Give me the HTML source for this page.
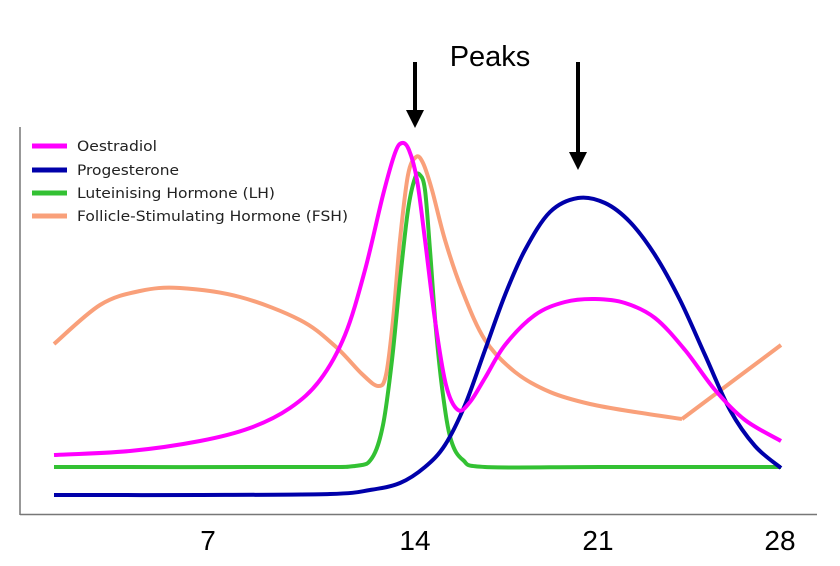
<!DOCTYPE html>
<html><head><meta charset="utf-8"><style>
html,body{margin:0;padding:0;background:#fff;}
svg{display:block;}
text{font-family:"Liberation Sans","DejaVu Sans",sans-serif;}
text.lg{font-family:"DejaVu Sans",sans-serif;}
</style></head><body>
<svg id="s" width="840" height="566" viewBox="0 0 840 566" xmlns="http://www.w3.org/2000/svg">
<line x1="20" y1="127" x2="20" y2="515" stroke="#777" stroke-width="1.5"/>
<line x1="20" y1="514.5" x2="817" y2="514.5" stroke="#777" stroke-width="1.5"/>
<g fill="none" stroke-width="4" stroke-linecap="butt" stroke-linejoin="round">
<path id="fsh" stroke="#f9a07a"/>
<path id="fsh2" stroke="#f9a07a"/>
<path id="lh" stroke="#33c133"/>
<path id="pro" stroke="#0000aa"/>
<path id="oes" stroke="#ff00ff"/>
</g>
<g stroke-width="5">
<line x1="32" y1="146" x2="67" y2="146" stroke="#ff00ff"/>
<line x1="32" y1="170" x2="67" y2="170" stroke="#0000aa"/>
<line x1="32" y1="193" x2="67" y2="193" stroke="#33c133"/>
<line x1="32" y1="216" x2="67" y2="216" stroke="#f9a07a"/>
</g>
<g font-size="14" fill="#222">
<text class="lg" x="77" y="151" textLength="80" lengthAdjust="spacingAndGlyphs">Oestradiol</text>
<text class="lg" x="77" y="175" textLength="102" lengthAdjust="spacingAndGlyphs">Progesterone</text>
<text class="lg" x="77" y="198" textLength="198" lengthAdjust="spacingAndGlyphs">Luteinising Hormone (LH)</text>
<text class="lg" x="77" y="221" textLength="271" lengthAdjust="spacingAndGlyphs">Follicle-Stimulating Hormone (FSH)</text>
</g>
<line x1="415" y1="62" x2="415" y2="112" stroke="#000" stroke-width="4"/>
<polygon points="406,110 424,110 415,128" fill="#000"/>
<line x1="578" y1="62" x2="578" y2="154" stroke="#000" stroke-width="4"/>
<polygon points="569,152 587,152 578,170" fill="#000"/>
<text x="490" y="66" font-size="29" text-anchor="middle" fill="#000">Peaks</text>
<g font-size="28" fill="#000" text-anchor="middle">
<text x="208" y="550">7</text>
<text x="415" y="550">14</text>
<text x="598" y="550">21</text>
<text x="780" y="550">28</text>
</g>
</svg>
<script>
function cr(p){let d="M"+p[0][0]+","+p[0][1];for(let i=0;i<p.length-1;i++){const a=p[i-1]||p[i],b=p[i],c=p[i+1],e=p[i+2]||c;
d+=" C"+(b[0]+(c[0]-a[0])/6)+","+(b[1]+(c[1]-a[1])/6)+" "+(c[0]-(e[0]-b[0])/6)+","+(c[1]-(e[1]-b[1])/6)+" "+c[0]+","+c[1];}return d;}
const D={
oes:[[54,455],[130,451],[200,441],[250,428],[290,408],[320,380],[345,335],[365,270],[383,195],[395,153],[402,143],[409,150],[417,180],[425,240],[435,320],[446,385],[458,410],[470,402],[485,378],[505,345],[535,315],[565,302],[595,299],[625,303],[655,318],[685,350],[715,390],[745,420],[781,441]],
pro:[[54,495],[200,495],[330,494],[370,490],[400,483],[425,467],[445,445],[465,405],[485,350],[505,295],[525,250],[550,212],[578,198],[605,203],[630,222],[655,255],[680,300],[705,355],[730,410],[755,446],[781,468]],
lh:[[54,467],[300,467],[355,466],[372,458],[383,425],[392,360],[400,280],[408,210],[415,178],[420,175],[425,190],[430,250],[436,330],[443,395],[451,440],[463,460],[485,467],[600,467],[781,467]],
fsh:[[54,344],[100,305],[140,291],[180,288],[240,297],[300,320],[335,346],[362,374],[378,386],[386,375],[393,320],[400,240],[408,175],[416,157],[423,163],[432,190],[445,240],[462,290],[485,340],[515,372],[550,392],[590,404],[635,412],[682,419]],
fsh2:[[682,419],[781,345]]
};
for(const k in D)document.getElementById(k).setAttribute("d",cr(D[k]));
</script>
</body></html>
